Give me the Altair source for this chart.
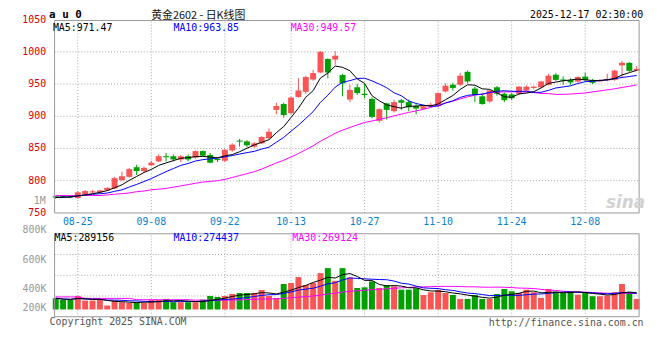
import altair as alt
import pandas as pd

# ---------------- data ----------------
dates = ["08-20", "08-21", "08-22", "08-25", "08-26", "08-27", "08-28", "08-29",
         "09-01", "09-02", "09-03", "09-04", "09-05", "09-08", "09-09", "09-10", "09-11", "09-12",
         "09-15", "09-16", "09-17", "09-18", "09-19", "09-22", "09-23", "09-24", "09-25", "09-26",
         "09-29", "09-30",
         "10-09", "10-10", "10-13", "10-14", "10-15", "10-16", "10-17", "10-20", "10-21", "10-22",
         "10-23", "10-24", "10-27", "10-28", "10-29", "10-30", "10-31",
         "11-03", "11-04", "11-05", "11-06", "11-07", "11-10", "11-11", "11-12", "11-13", "11-14",
         "11-17", "11-18", "11-19", "11-20", "11-21", "11-24", "11-25", "11-26", "11-27", "11-28",
         "12-01", "12-02", "12-03", "12-04", "12-05", "12-08", "12-09", "12-10", "12-11", "12-12",
         "12-15", "12-16", "12-17"]

opens = [776, 776, 775.5, 773, 779, 782, 782, 785, 788, 801, 806, 821, 815, 824, 830, 837.5, 838, 833,
         838, 836, 846, 840, 834, 831, 847, 862, 861, 853, 858, 866,
         910, 919, 905, 930, 938, 957, 968, 989, 988, 964, 926, 945, 935, 927, 893, 920, 908,
         925, 922, 916, 911.5, 916, 916, 938.5, 949, 949, 969, 943, 931, 923, 945, 935, 934, 935, 940,
         944, 945, 949, 964.5, 956.5, 956.4, 953.8, 961.5, 956.4, 954.3, 955.5, 956.5, 979, 983, 970.6]
highs = [777, 777.5, 777, 784, 785.5, 785.5, 786, 790, 806, 814, 820, 825, 822, 831, 841, 843, 841, 840,
         841, 847, 847, 843, 836, 849, 858, 865, 863, 860, 869, 881,
         921, 921, 930, 959, 963, 972, 1001, 990, 1001, 966, 949, 950, 950, 929, 912, 921, 926,
         927, 926, 919, 917, 921, 937, 951, 952, 967, 971, 946, 936, 941, 947, 937, 936, 947, 948,
         947.5, 955, 966, 967, 962, 959, 962, 967.5, 958, 957.5, 966, 972, 986, 984, 978]
lows = [772, 773, 773, 772, 778, 781, 781, 784, 787, 799, 805, 809, 812, 823, 829, 830, 830, 829,
        830, 834, 838, 827, 829, 829, 845, 853, 852, 851, 857, 865,
        903, 898, 903, 929, 935, 955, 967, 959, 980, 931, 922, 933, 928, 897, 890, 895, 906,
        910, 908, 903, 910, 914, 914, 937, 940, 947, 951, 922, 918, 921, 932, 922, 925, 933, 939,
        942, 944, 948, 955, 949, 949, 952, 955, 950, 953, 954, 955, 961, 969, 970]
closes = [774, 775, 775, 782, 784, 783.5, 785, 789, 804, 807, 818, 815, 820, 828, 838, 837, 833, 838,
          833, 846, 839, 828, 832, 848, 856, 861, 855, 858, 868, 876,
          916, 902, 929, 940, 961, 967, 1000, 968, 994, 951, 941, 936, 933, 899, 911, 910, 922,
          921, 914, 912, 915.5, 918, 936, 947.5, 944, 963, 954, 933, 919, 940, 935, 925, 928, 946, 946,
          946, 954, 963, 956.5, 956, 952.5, 961, 956.4, 952, 956.3, 958, 971, 983, 970.6, 973.5]
# volume in thousands of lots
volumes_k = [193, 164, 164, 232, 153, 153, 170, 68, 153, 125, 113, 125, 113, 164, 164, 181, 125, 125,
             125, 125, 170, 232, 215, 232, 266, 283, 283, 283, 335, 232,
             198, 437, 454, 556, 420, 454, 624, 709, 493, 709, 550, 369, 380, 482, 369, 420, 397,
             340, 340, 363, 249, 295, 335, 283, 249, 181, 181, 249, 181, 181, 266, 352, 312, 283, 340,
             295, 198, 352, 306, 283, 312, 255, 295, 227, 227, 238, 295, 437, 295, 181]
ma30_price_head = [777, 777, 777, 777, 777, 777, 777, 778, 779, 780, 781, 783, 784, 786, 787, 788,
                   790, 792, 794, 796, 798, 799, 800, 802, 805, 808, 811, 814, 818]
ma30_vol_head = [215, 215, 215, 215, 190, 190, 190, 190, 190, 190, 190, 168, 168, 168, 168, 168,
                 168, 168, 168, 160, 160, 160, 160, 160, 160, 165, 170, 175, 178]

price_ticks = [750, 800, 850, 900, 950, 1000, 1050]
date_ticks = ["08-25", "09-08", "09-22", "10-13", "10-27", "11-10", "11-24", "12-08"]
vol_tick_labels = ["800K", "600K", "400K", "200K"]
ma_price_text = ["MA5:971.47", "MA10:963.85", "MA30:949.57"]
ma_vol_text = ["MA5:289156", "MA10:274437", "MA30:269124"]

# ---------------- layout constants ----------------
W, H = 600, 299
XMIN, XMAX = -0.16, 79.33
P_TOP, P_BOT, P_PX = 1048.7, 750, 0.6504
P_MIN = P_TOP - H / P_PX
V_BASE_Y, V_PER_PX, V_TOP_Y = 291.7, 17.0, 215.3
V_MIN = -(H - V_BASE_Y) * V_PER_PX
V_MAX = V_BASE_Y * V_PER_PX
V_PANEL_TOP = (V_BASE_Y - V_TOP_Y) * V_PER_PX

RED, GREEN = "#fa5555", "#00a000"
GRID, BORDER = "#a8a8a8", "#999999"
MONO = "DejaVu Sans Mono"

n = len(dates)
df = pd.DataFrame({
    "i": list(range(n)), "d": dates, "o": opens, "h": highs, "l": lows, "c": closes, "v": volumes_k,
    "ma30h": ma30_price_head + [None] * (n - len(ma30_price_head)),
    "ma30vh": ma30_vol_head + [None] * (n - len(ma30_vol_head)),
})
ticks_df = pd.DataFrame({"i": [dates.index(t) for t in date_ticks], "lab": date_ticks})
one = pd.DataFrame({"k": [0]})

xs = alt.Scale(domain=[XMIN, XMAX], nice=False, zero=False)
sp = alt.Scale(domain=[P_MIN, P_TOP], nice=False, zero=False)
sv = alt.Scale(domain=[V_MIN, V_MAX], nice=False, zero=False)


def X(f="i"):
    return alt.X(f"{f}:Q", scale=xs, axis=None)


def YP(f):
    return alt.Y(f"{f}:Q", scale=sp, axis=None)


def YV(f):
    return alt.Y(f"{f}:Q", scale=sv, axis=None)


def xdat(v):
    return alt.XDatum(datum=v, type="quantitative", scale=xs, axis=None)


def ypdat(v):
    return alt.YDatum(datum=v, type="quantitative", scale=sp, axis=None)


def yvdat(v):
    return alt.YDatum(datum=v, type="quantitative", scale=sv, axis=None)


def label(text, x, y, color="#000000", size=10, align="left", weight="normal", font=MONO, style="normal"):
    return alt.Chart(one).mark_text(text=text, align=align, baseline="middle", color=color,
                                    fontSize=size, font=font, fontWeight=weight, fontStyle=style
                                    ).encode(x=alt.value(x), y=alt.value(y))


col = alt.condition("datum.c >= datum.o", alt.value(RED), alt.value(GREEN))
sortI = [alt.SortField("i")]

# ---------------- price panel ----------------
grid_ph = alt.Chart(pd.DataFrame({"p": price_ticks[1:-1]})).mark_rule(
    color=GRID, strokeDash=[1, 2]).encode(y=YP("p"), x=xdat(XMIN), x2=alt.X2Datum(XMAX))
grid_pv = alt.Chart(ticks_df).mark_rule(color=GRID, strokeDash=[1, 2]).encode(
    x=X(), y=ypdat(P_BOT), y2=alt.Y2Datum(P_TOP))
border_p = alt.Chart(one).mark_rect(fillOpacity=0, stroke=BORDER, strokeWidth=1).encode(
    x=xdat(XMIN), x2=alt.X2Datum(XMAX), y=ypdat(P_BOT), y2=alt.Y2Datum(P_TOP))

wick = alt.Chart(df).mark_rule(strokeWidth=1).encode(x=X(), y=YP("l"), y2="h:Q", color=col)
body = alt.Chart(df).transform_calculate(
    bt="max(datum.o, datum.c)", bb="min(datum.o, datum.c)"
).transform_calculate(
    bt2="datum.bt - datum.bb < 1.6 ? (datum.bt + datum.bb) / 2 + 0.8 : datum.bt",
    bb2="datum.bt - datum.bb < 1.6 ? (datum.bt + datum.bb) / 2 - 0.8 : datum.bb",
).mark_bar(width=6).encode(x=X(), y=YP("bb2"), y2="bt2:Q", color=col)

pm = alt.Chart(df).transform_window(ma5="mean(c)", frame=[-4, 0], sort=sortI).transform_window(
    ma10="mean(c)", frame=[-9, 0], sort=sortI).transform_window(
    ma30c="mean(c)", frame=[-29, 0], sort=sortI).transform_calculate(
    ma30="isValid(datum.ma30h) ? datum.ma30h : datum.ma30c")
l5 = pm.mark_line(color="#000000", strokeWidth=1).encode(x=X(), y=YP("ma5"))
l10 = pm.mark_line(color="#0000ff", strokeWidth=1).encode(x=X(), y=YP("ma10"))
l30 = pm.mark_line(color="#ff00ff", strokeWidth=1).encode(x=X(), y=YP("ma30"))

plabels = alt.Chart(pd.DataFrame({"p": price_ticks})).mark_text(
    align="right", baseline="middle", font=MONO, fontSize=10, color="#dd0000").encode(
    y=YP("p"), x=alt.value(-3.5), text=alt.Text("p:Q", format="d"))
dlabels = alt.Chart(ticks_df).mark_text(align="center", baseline="middle", font=MONO,
                                         fontSize=10, color="#0a7fd0").encode(
    x=X(), y=alt.value(203), text="lab:N")

# ---------------- volume panel ----------------
vgrid_vals = [V_MIN + k * (V_PANEL_TOP - V_MIN) / 4 for k in (1, 2, 3)]
grid_vh = alt.Chart(pd.DataFrame({"g": vgrid_vals})).mark_rule(
    color=GRID, strokeDash=[1, 2]).encode(y=YV("g"), x=xdat(XMIN), x2=alt.X2Datum(XMAX))
grid_vv = alt.Chart(ticks_df).mark_rule(color=GRID, strokeDash=[1, 2]).encode(
    x=X(), y=yvdat(V_MIN), y2=alt.Y2Datum(V_PANEL_TOP))
border_v = alt.Chart(one).mark_rect(fillOpacity=0, stroke=BORDER, strokeWidth=1).encode(
    x=xdat(XMIN), x2=alt.X2Datum(XMAX), y=yvdat(V_MIN), y2=alt.Y2Datum(V_PANEL_TOP))
vbars = alt.Chart(df).mark_bar(width=6).encode(x=X(), y=YV("v"), y2=alt.Y2Datum(0), color=col)

vm = alt.Chart(df).transform_window(m5="mean(v)", frame=[-4, 0], sort=sortI).transform_window(
    m10="mean(v)", frame=[-9, 0], sort=sortI).transform_window(
    m30c="mean(v)", frame=[-29, 0], sort=sortI).transform_calculate(
    m30="isValid(datum.ma30vh) ? datum.ma30vh : datum.m30c")
v5 = vm.mark_line(color="#000000", strokeWidth=1).encode(x=X(), y=YV("m5"))
v10 = vm.mark_line(color="#0000ff", strokeWidth=1).encode(x=X(), y=YV("m10"))
v30 = vm.mark_line(color="#ff00ff", strokeWidth=1).encode(x=X(), y=YV("m30"))

# ---------------- texts ----------------
texts = [
    label("a u 0", -0.5, -5.5, size=11, weight="bold"),
    label("黄金2602 - 日K线图", 150, -4.8, color="#111111", size=11, align="center",
          font="Noto Sans CJK SC"),
    label("2025-12-17 02:30:00", 599, -5.5, align="right"),
    label(ma_price_text[0], 3.3, 7.2, color="#000000"),
    label(ma_price_text[1], 125, 7.2, color="#0000ff"),
    label(ma_price_text[2], 243.3, 7.2, color="#ff00ff"),
    label(ma_vol_text[0], 5, 219.3, color="#000000"),
    label(ma_vol_text[1], 125, 219.3, color="#0000ff"),
    label(ma_vol_text[2], 245, 219.3, color="#ff00ff"),
    label("1M", -4, 182, color="#999999", align="right"),
    label(vol_tick_labels[0], -3.3, 211.7, color="#999999", align="right"),
    label(vol_tick_labels[1], -3.3, 242, color="#999999", align="right"),
    label(vol_tick_labels[2], -3.3, 271, color="#999999", align="right"),
    label(vol_tick_labels[3], -3.3, 290.3, color="#999999", align="right"),
    label("Copyright 2025 SINA.COM", 0, 304.5, color="#555555"),
    label("http://finance.sina.com.cn", 599.5, 305, color="#555555", align="right"),
    label("sina", 601, 184, color="#d2d2d2", size=17, align="right", weight="bold",
          font="DejaVu Sans", style="italic"),
]

chart = alt.layer(
    grid_ph, grid_pv, grid_vh, grid_vv,
    vbars, wick, body,
    l30, l10, l5, v30, v10, v5,
    border_p, border_v,
    plabels, dlabels, *texts,
).resolve_scale(y="independent").properties(
    width=W, height=H,
    autosize=alt.AutoSizeParams(type="none"),
    padding={"left": 42, "top": 11, "right": 8, "bottom": 31},
).configure_view(stroke=None)

chart.save("out.html", embed_options={"renderer": "svg", "actions": False})
